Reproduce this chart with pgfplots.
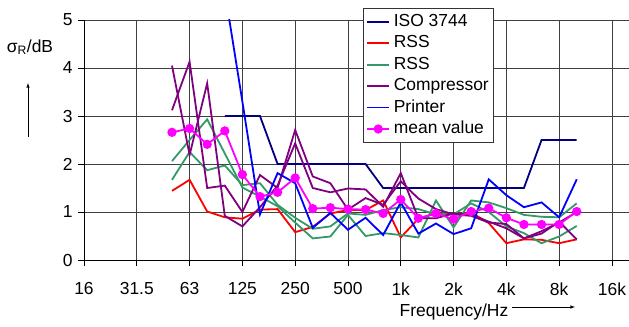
\documentclass[border=0pt]{standalone}
\usepackage{fontspec}
\setmainfont{Liberation Sans}
\usepackage{pgfplots}
\pgfplotsset{compat=1.18}
\usepackage{pgfplotstable}
\definecolor{isoblue}{RGB}{0,0,128}
\definecolor{rssgreen}{RGB}{51,153,102}
\definecolor{comppurple}{RGB}{128,0,128}
\definecolor{printblue}{RGB}{0,0,255}
\definecolor{meanmag}{RGB}{255,0,255}

% x = third-octave band index (16 Hz = 0, 31.5 Hz = 3, ..., 16 kHz = 30)
\pgfplotstableread{
i iso
8 3
9 3
10 3
11 2
12 2
13 2
14 2
15 2
16 2
17 1.5
18 1.5
19 1.5
20 1.5
21 1.5
22 1.5
23 1.5
24 1.5
25 1.5
26 2.5
27 2.5
28 2.5
}\isotab

\pgfplotstableread{
i mean red ga gb pa pb
5 2.66 1.44 2.06 1.67 4.05 3.12
6 2.74 1.67 2.50 2.25 2.19 4.13
7 2.41 1.01 2.93 1.87 3.68 1.50
8 2.69 0.89 2.22 1.97 0.92 1.55
9 1.78 0.86 1.51 1.56 0.70 1.00
10 1.32 1.05 1.32 1.60 1.10 1.77
11 1.41 1.06 1.12 1.15 1.55 1.50
12 1.71 0.58 0.78 0.88 2.43 2.71
13 1.07 0.69 0.45 0.65 1.50 1.74
14 1.09 0.97 0.49 0.70 1.41 1.60
15 1.06 1.04 0.94 0.97 1.49 1.05
16 1.05 1.04 0.50 0.94 1.47 1.29
17 0.97 1.24 0.56 1.04 1.11 1.15
18 1.26 0.47 0.52 1.10 1.81 1.64
19 0.87 0.86 0.47 1.06 0.87 1.28
20 0.97 0.97 1.24 0.95 0.87 1.06
21 0.85 0.95 0.68 0.95 0.97 0.95
22 1.01 0.99 1.24 1.18 0.94 0.92
23 1.08 0.77 1.20 1.00 0.80 0.78
24 0.88 0.35 1.08 0.70 0.66 0.75
25 0.74 0.43 0.94 0.56 0.45 0.45
26 0.74 0.42 0.90 0.35 0.60 0.55
27 0.74 0.35 0.89 0.49 0.78 0.80
28 1.01 0.43 1.18 0.71 1.00 0.43
}\datatab

\pgfplotstableread{
i pr
8 5.6
9 3.3
10 0.95
11 1.81
12 1.60
13 0.67
14 0.98
15 0.63
16 0.88
17 0.52
18 1.20
19 0.55
20 0.76
21 0.54
22 0.66
23 1.68
24 1.35
25 1.10
26 1.20
27 0.89
28 1.68
}\prtab

\begin{document}
\begin{tikzpicture}
\path[use as bounding box] (-84bp,-67bp) rectangle (545bp,260bp);
\begin{axis}[
  at={(0,0)}, anchor=south west,
  scale only axis, width=545bp, height=240bp,
  xmin=0, xmax=30.97, ymin=0, ymax=5,
  axis lines=left, axis line style={-, black, line width=0.8bp},
  xtick={0,3,...,30},
  xticklabels={16,31.5,63,125,250,500,1k,2k,4k,8k,16k},
  ytick={0,1,2,3,4,5},
  tick align=outside, major tick length=6bp,
  tick style={black, line width=0.6bp},
  grid=major, major grid style={black!75, line width=0.6bp},
  ticklabel style={font=\fontsize{17.5}{20}\selectfont},
  xticklabel style={yshift=-13bp},
  yticklabel style={xshift=-2bp},
  /pgf/number format/assume math mode=true,
  legend cell align=left,
  legend image code/.code={\draw[mark repeat=2,mark phase=2,#1,line width=1.8bp] plot coordinates {(0bp,0bp) (11bp,0bp) (22bp,0bp)};},
  legend style={at={(0.512,1.05)}, anchor=north west, draw=black!80, line width=0.6bp,
    fill=white, font=\fontsize{17.5}{20}\selectfont, inner sep=3bp,
    column sep=2bp,
    nodes={inner sep=1.7bp, text height=13.5bp, text depth=4.5bp}},
]
\addplot[isoblue, line width=1.8bp] table[x=i, y=iso] {\isotab};
\addlegendentry{ISO 3744}
\addplot[red, line width=1.8bp] table[x=i, y=red] {\datatab};
\addlegendentry{RSS}
\addplot[rssgreen, line width=1.8bp] table[x=i, y=ga] {\datatab};
\addlegendentry{RSS}
\addplot[rssgreen, line width=1.8bp, forget plot] table[x=i, y=gb] {\datatab};
\addplot[comppurple, line width=1.8bp] table[x=i, y=pa] {\datatab};
\addlegendentry{Compressor}
\addplot[comppurple, line width=1.8bp, forget plot] table[x=i, y=pb] {\datatab};
\addplot[printblue, line width=1.8bp] table[x=i, y=pr] {\prtab};
\addlegendentry{Printer}
\addplot[meanmag, line width=1.8bp, mark=*, mark size=3.7bp, mark options={fill=meanmag, draw=meanmag}] table[x=i, y=mean] {\datatab};
\addlegendentry{mean value}
\end{axis}
\node[font=\fontsize{17.5}{20}\selectfont] at (-54bp,213bp) {σ\textsubscript{R}/dB};
\draw[-latex, line width=0.6bp] (-56bp,123bp) -- (-56bp,177bp);
\node[font=\fontsize{17.5}{20}\selectfont] at (370bp,-52bp) {Frequency/Hz};
\draw[-latex, line width=0.6bp] (428bp,-47bp) -- (491bp,-47bp);
\end{tikzpicture}
\end{document}
